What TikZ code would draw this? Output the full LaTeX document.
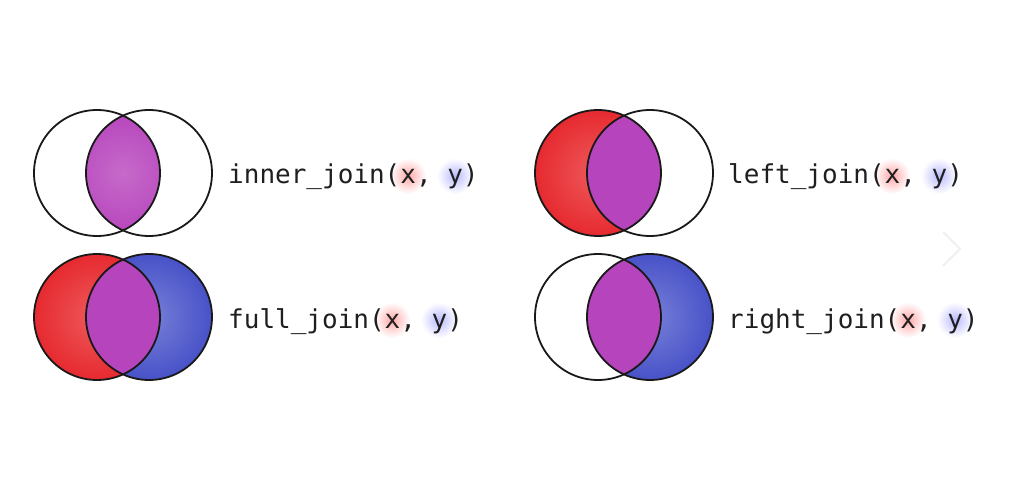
\documentclass[tikz,border=0pt]{standalone}
\usepackage{fontspec}
\setmonofont{DejaVu Sans Mono}
\begin{document}
\begin{tikzpicture}[x=1pt,y=-1pt,
  ring/.style={circle,draw=black!90,line width=1.8pt,minimum size=126pt,inner sep=0pt,outer sep=0pt},
  lbl/.style={anchor=base west,inner sep=0pt,font=\ttfamily\fontsize{26}{30}\selectfont,text=black!88},
  xblob/.style={inner color=red!34,outer color=white},
  yblob/.style={inner color=blue!27,outer color=white}]
\definecolor{redc}{RGB}{230,42,48}
\definecolor{redl}{RGB}{238,90,92}
\definecolor{purp}{RGB}{182,68,188}
\definecolor{purpl}{RGB}{198,106,202}
\definecolor{bluec}{RGB}{72,82,200}
\definecolor{bluel}{RGB}{120,128,215}
\useasboundingbox (0,0) rectangle (1013,492);
\fill[white] (0,0) rectangle (1013,492);
\def\R{63pt}
% ---------- inner join ----------
\begin{scope}
  \clip (97,173) circle[radius=\R];
  \clip (149,173) circle[radius=\R];
  \shade[inner color=purpl,outer color=purp] (123,173) circle[radius=\R];
\end{scope}
\node[ring] (IL) at (97,173) {};
\node[ring] (IR) at (149,173) {};
% ---------- left join ----------
\shade[inner color=redl,outer color=redc] (598,173) circle[radius=\R];
\begin{scope}
  \clip (598,173) circle[radius=\R];
  \fill[purp] (650,173) circle[radius=\R];
\end{scope}
\node[ring] (LL) at (598,173) {};
\node[ring] (LR) at (650,173) {};
% ---------- full join ----------
\shade[inner color=redl,outer color=redc] (97,317) circle[radius=\R];
\shade[inner color=bluel,outer color=bluec] (149,317) circle[radius=\R];
\begin{scope}
  \clip (97,317) circle[radius=\R];
  \fill[purp] (149,317) circle[radius=\R];
\end{scope}
\node[ring] (FL) at (97,317) {};
\node[ring] (FR) at (149,317) {};
% ---------- right join ----------
\shade[inner color=bluel,outer color=bluec] (650,317) circle[radius=\R];
\begin{scope}
  \clip (650,317) circle[radius=\R];
  \fill[purp] (598,317) circle[radius=\R];
\end{scope}
\node[ring] (RL) at (598,317) {};
\node[ring] (RR) at (650,317) {};
% ---------- labels ----------
\shade[xblob] (408,176) circle[radius=18pt];
\shade[yblob] (455,176) circle[radius=18pt];
\node[lbl] (tI) at (228,184) {inner\_join(x, y)};
\shade[xblob] (892,176) circle[radius=18pt];
\shade[yblob] (939,176) circle[radius=18pt];
\node[lbl] (tL) at (728,184) {left\_join(x, y)};
\shade[xblob] (392,320) circle[radius=18pt];
\shade[yblob] (439,320) circle[radius=18pt];
\node[lbl] (tF) at (228,328) {full\_join(x, y)};
\shade[xblob] (908,320) circle[radius=18pt];
\shade[yblob] (955,320) circle[radius=18pt];
\node[lbl] (tR) at (728,328) {right\_join(x, y)};
% faint chevron
\coordinate (c1) at (943,232);
\coordinate (c2) at (960,249);
\coordinate (c3) at (943,266);
\draw[black!6,line width=2pt] (c1) -- (c2) -- (c3);
\end{tikzpicture}
\end{document}
